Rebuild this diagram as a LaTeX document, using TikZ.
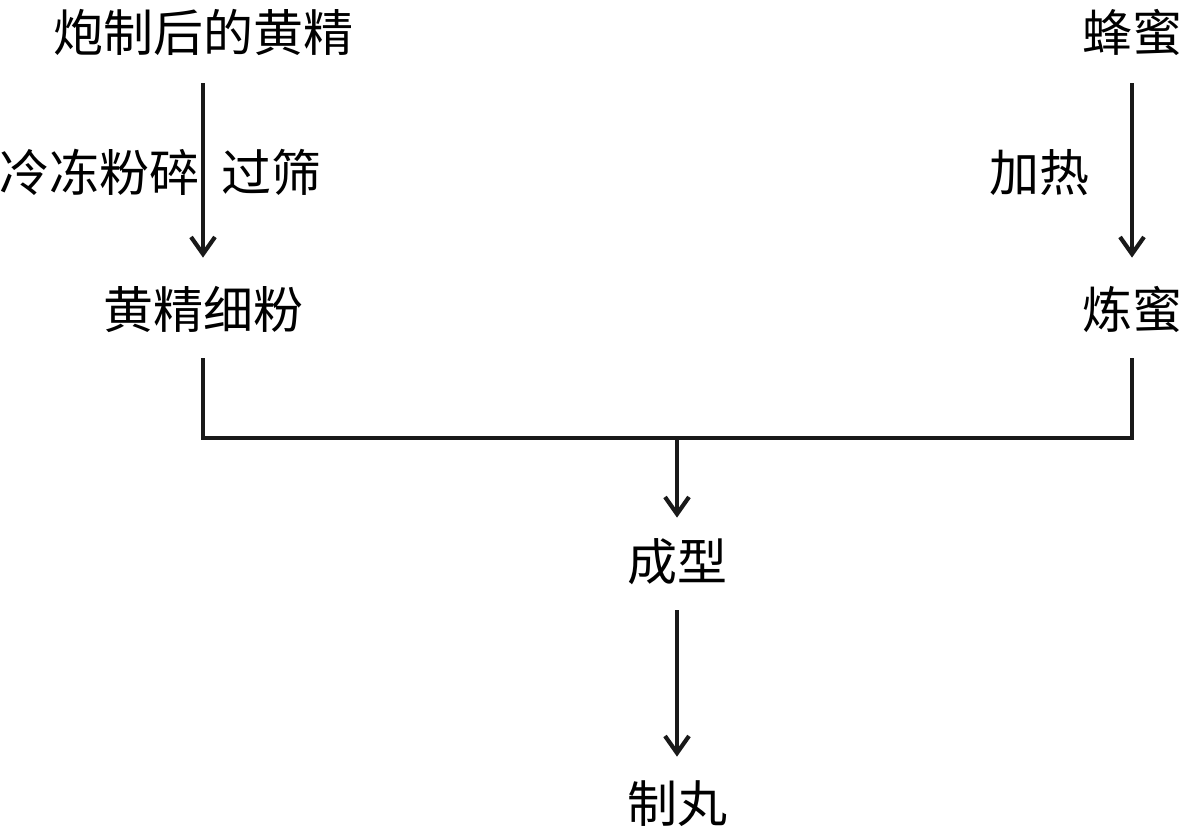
\documentclass[tikz,border=0pt]{standalone}
\usepackage{fontspec}
\newfontfamily\cjk{Noto Sans CJK SC}
\usetikzlibrary{arrows.meta}
\begin{document}
\begin{tikzpicture}[x=0.5pt,y=-0.5pt,
  lbl/.style={inner sep=0pt, text height=20pt, text depth=5pt, font=\cjk\fontsize{25}{30}\selectfont},
  ln/.style={line width=2.1pt, draw=black!90},
  arr/.style={ln, -{Straight Barb[length=8.5pt,width=12pt,line width=2.1pt]}}]
\useasboundingbox (0,0) rectangle (1187,827);
\node[lbl] (raw) at (203,36) {炮制后的黄精};
\node[lbl] (fen) at (203,313) {黄精细粉};
\node[lbl] (honey) at (1132,36) {蜂蜜};
\node[lbl] (lianmi) at (1132,313) {炼蜜};
\node[lbl] (cx) at (677,565) {成型};
\node[lbl] (zw) at (677,807) {制丸};
\node[lbl] (s1) at (99,176) {冷冻粉碎};
\node[lbl] (s2) at (271,176) {过筛};
\node[lbl] (s3) at (1039,176) {加热};
\coordinate (jc) at (677,438);
\draw[arr, shorten <=11pt, shorten >=15pt] (raw.south) -- (fen.north);
\draw[arr, shorten <=11pt, shorten >=15pt] (honey.south) -- (lianmi.north);
\draw[ln] ([yshift=-10pt]fen.south) |- (jc) -| ([yshift=-10pt]lianmi.south);
\draw[arr, shorten >=11pt] (jc) -- (cx.north);
\draw[arr, shorten <=10pt, shorten >=12.5pt] (cx.south) -- (zw.north);
\end{tikzpicture}
\end{document}
